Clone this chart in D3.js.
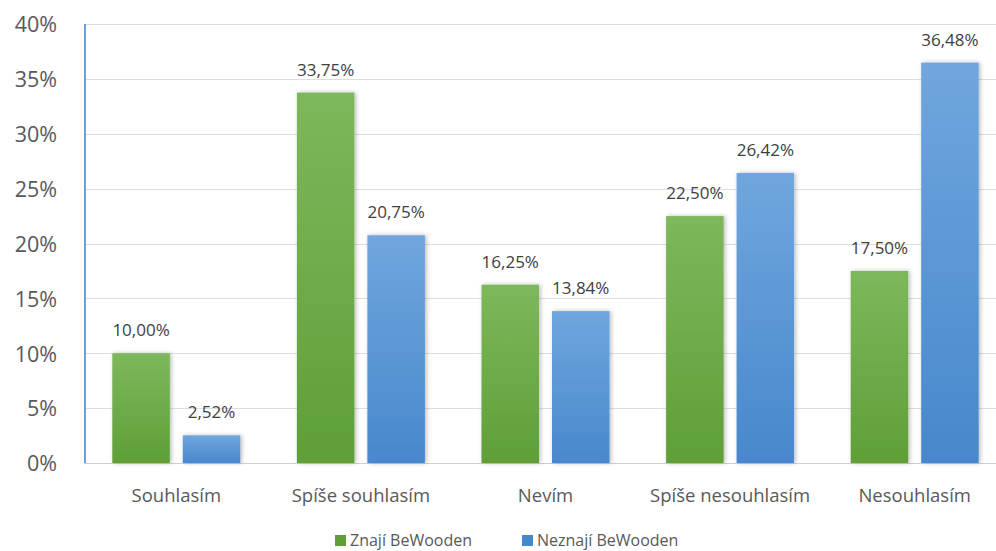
<!DOCTYPE html>
<html>
<head>
<meta charset="utf-8">
<script src="https://cdn.jsdelivr.net/npm/d3@7"></script>
<style>
  html, body { margin: 0; padding: 0; background: #fff; }
  svg { display: block; font-family: "Open Sans", "Noto Sans", sans-serif; }
</style>
</head>
<body>
<svg id="chart" width="996" height="551"></svg>
<script>
// Survey answers, share of respondents per group
const categories = ["Souhlasím", "Spíše souhlasím", "Nevím", "Spíše nesouhlasím", "Nesouhlasím"];
const seriesNames = ["Znají BeWooden", "Neznají BeWooden"];
const znaji = [10.00, 33.75, 16.25, 22.50, 17.50];
const neznaji = [2.52, 20.75, 13.84, 26.42, 36.48];
const yTicks = [0, 5, 10, 15, 20, 25, 30, 35, 40];

const seriesValues = [znaji, neznaji];
const colorsTop = ["#7db85c", "#70a6dd"];
const colorsBottom = ["#5e9f37", "#4788cc"];
const FONT = '"Open Sans", "Noto Sans", sans-serif';

const svg = d3.select("#chart");
const plot = { left: 84, right: 1007, top: 24, bottom: 463 };

const x = d3.scaleBand().domain(categories).range([plot.left, plot.right]).padding(0);
const xInner = d3.scaleBand().domain(seriesNames).range([-64, 64]).paddingInner(0.184).paddingOuter(0);
const y = d3.scaleLinear().domain([0, 40]).range([plot.bottom, plot.top]);

const fmt = v => v.toFixed(2).replace(".", ",") + "%";

// gradients and bar shadow
const defs = svg.append("defs");
seriesNames.forEach((s, i) => {
  const g = defs.append("linearGradient").attr("id", "grad" + i)
    .attr("x1", 0).attr("y1", 0).attr("x2", 0).attr("y2", 1);
  g.append("stop").attr("offset", "0%").attr("stop-color", colorsTop[i]);
  g.append("stop").attr("offset", "100%").attr("stop-color", colorsBottom[i]);
});
const f = defs.append("filter").attr("id", "shadow")
  .attr("x", "-20%").attr("y", "-10%").attr("width", "140%").attr("height", "120%");
f.append("feDropShadow").attr("dx", 1.5).attr("dy", 0).attr("stdDeviation", 2)
  .attr("flood-color", "#000").attr("flood-opacity", 0.28);

// horizontal gridlines
svg.append("g").selectAll("line").data(yTicks).join("line")
  .attr("x1", plot.left).attr("x2", plot.right)
  .attr("y1", d => Math.round(y(d)) + 0.5).attr("y2", d => Math.round(y(d)) + 0.5)
  .attr("stroke", d => d === 0 ? "#cfcfcf" : "#dedede").attr("stroke-width", 1.2);

// y axis
const yAxis = d3.axisLeft(y).tickValues(yTicks).tickFormat(d => d + "%").tickSize(0).tickPadding(0);
const gy = svg.append("g").attr("transform", `translate(57,0)`).call(yAxis)
  .attr("font-family", FONT);
gy.select(".domain").remove();
gy.selectAll("text").attr("font-size", 21.5).attr("fill", "#595959").attr("dy", "0.36em");

svg.append("line")
  .attr("x1", plot.left + 1).attr("x2", plot.left + 1)
  .attr("y1", plot.top).attr("y2", plot.bottom)
  .attr("stroke", "#6f9fd8").attr("stroke-width", 2);

// bars
const groups = svg.append("g").selectAll("g").data(categories).join("g")
  .attr("transform", c => `translate(${x(c) + x.bandwidth() / 2},0)`);

groups.each(function (c, ci) {
  const g = d3.select(this);
  seriesNames.forEach((s, si) => {
    const v = seriesValues[si][ci];
    g.append("rect")
      .attr("x", xInner(s)).attr("width", xInner.bandwidth())
      .attr("y", y(v)).attr("height", y(0) - y(v))
      .attr("fill", `url(#grad${si})`)
      .attr("filter", "url(#shadow)");
    g.append("text")
      .attr("x", xInner(s) + xInner.bandwidth() / 2)
      .attr("y", y(v) - 17)
      .attr("text-anchor", "middle")
      .attr("font-size", 17).attr("fill", "#404040")
      .text(fmt(v));
  });
});

// category axis
const xAxis = d3.axisBottom(x).tickSize(0).tickPadding(0);
const gx = svg.append("g").attr("transform", `translate(0,${plot.bottom})`).call(xAxis)
  .attr("font-family", FONT);
gx.select(".domain").remove();
gx.selectAll("text").attr("font-size", 18.5).attr("fill", "#595959").attr("y", 39).attr("dy", 0);

// legend
const legendX = [335, 522];
const legend = svg.append("g").selectAll("g").data(seriesNames).join("g")
  .attr("transform", (d, i) => `translate(${legendX[i]},535)`);
legend.append("rect").attr("width", 11).attr("height", 11).attr("y", 0)
  .attr("fill", (d, i) => colorsBottom[i]);
legend.append("text").attr("x", 15).attr("y", 11).attr("font-size", 16)
  .attr("fill", "#595959").text(d => d);
</script>
</body>
</html>
